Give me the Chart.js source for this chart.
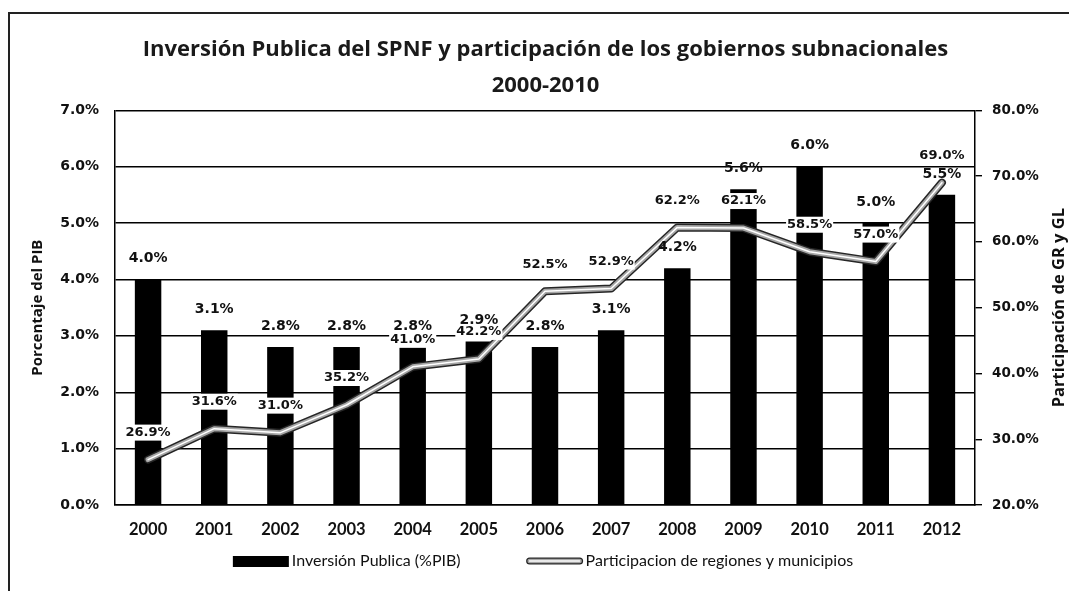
<!DOCTYPE html>
<html><head><meta charset="utf-8">
<script src="https://cdn.jsdelivr.net/npm/chart.js@4.4.1/dist/chart.umd.min.js"></script>
<style>
html,body{margin:0;padding:0;background:#fff;}
#wrap{position:relative;width:1069px;height:591px;overflow:hidden;}
#frame{position:absolute;left:8px;top:12px;width:1100px;height:620px;border-left:2px solid #222;border-top:2px solid #222;}
canvas{position:absolute;left:0;top:0;}
</style></head><body>
<div id="wrap"><div id="frame"></div><canvas id="c" width="1069" height="591"></canvas></div>
<script>
// ---- data ----
const years = ['2000','2001','2002','2003','2004','2005','2006','2007','2008','2009','2010','2011','2012'];
const inversionPIB = [4.0, 3.1, 2.8, 2.8, 2.8, 2.9, 2.8, 3.1, 4.2, 5.6, 6.0, 5.0, 5.5];
const participacion = [26.9, 31.6, 31.0, 35.2, 41.0, 42.2, 52.5, 52.9, 62.2, 62.1, 58.5, 57.0, 69.0];
const leftTicks = [0, 1, 2, 3, 4, 5, 6, 7];
const rightTicks = [20, 30, 40, 50, 60, 70, 80];
const titleLines = ['Inversión Publica del SPNF y participación de los gobiernos subnacionales', '2000-2010'];
const leftTitle = 'Porcentaje del PIB';
const rightTitle = 'Participación de GR y GL';
const seriesNames = ['Inversión Publica (%PIB)', 'Participacion de regiones y municipios'];

const pct = v => Number(v).toFixed(1) + '%';
const lineStrokes = [[8, '#262626'], [5, '#a6a6a6'], [1.5, '#ffffff']];

function strokeDoubleLine(ctx, pts) {
  ctx.save();
  ctx.lineJoin = 'round'; ctx.lineCap = 'round';
  lineStrokes.forEach(([w, c], i) => {
    if (i === 0) return;
    ctx.beginPath();
    pts.forEach((p, k) => k ? ctx.lineTo(p.x, p.y) : ctx.moveTo(p.x, p.y));
    ctx.lineWidth = w; ctx.strokeStyle = c; ctx.stroke();
  });
  ctx.restore();
}

const decoPlugin = {
  id: 'deco',
  afterDatasetDraw(chart, args) {
    if (args.index !== 1) return;
    const pts = args.meta.data.map(p => ({x: p.x, y: p.y}));
    strokeDoubleLine(chart.ctx, pts);
  },
  afterDatasetsDraw(chart) {
    const ctx = chart.ctx;
    ctx.save();
    ctx.textAlign = 'center'; ctx.textBaseline = 'middle';
    // bar labels
    ctx.font = 'bold 14px "DejaVu Sans"';
    ctx.fillStyle = '#111';
    chart.getDatasetMeta(0).data.forEach((b, i) => {
      ctx.fillText(pct(inversionPIB[i]), b.x, b.y - 21);
    });
    // line labels
    ctx.font = 'bold 13px "DejaVu Sans"';
    chart.getDatasetMeta(1).data.forEach((p, i) => {
      const t = pct(participacion[i]);
      const w = ctx.measureText(t).width;
      const y = p.y - 27;
      ctx.fillStyle = '#fff';
      ctx.fillRect(p.x - w / 2 - 1, y - 8, w + 2, 16);
      ctx.fillStyle = '#111';
      ctx.fillText(t, p.x, y);
    });
    ctx.restore();
  },
  afterDraw(chart) {
    const ctx = chart.ctx;
    const ca = chart.chartArea;
    ctx.save();
    // right axis title (bottom-to-top)
    ctx.translate(1059, (ca.top + ca.bottom) / 2);
    ctx.rotate(-Math.PI / 2);
    ctx.font = 'bold 16.5px "Open Sans"';
    ctx.fillStyle = '#111';
    ctx.textAlign = 'center'; ctx.textBaseline = 'middle';
    ctx.fillText(rightTitle, 0, 0);
    ctx.restore();
    // legend
    ctx.save();
    ctx.font = '16px Lato';
    ctx.textBaseline = 'middle'; ctx.textAlign = 'left';
    const sym = 56, gapT = 3, gapItems = 66;
    const w1 = ctx.measureText(seriesNames[0]).width;
    const w2 = ctx.measureText(seriesNames[1]).width;
    const total = sym + gapT + w1 + gapItems + sym + gapT + w2;
    let x = 543 - total / 2;
    const y = 561;
    ctx.fillStyle = '#000';
    ctx.fillRect(x, y - 5, sym, 11);
    x += sym + gapT;
    ctx.fillStyle = '#111';
    ctx.fillText(seriesNames[0], x, y);
    x += w1 + gapItems;
    ctx.lineCap = 'round';
    [[7, '#262626'], [4.5, '#a6a6a6'], [1.4, '#fff']].forEach(([lw, c]) => {
      ctx.beginPath(); ctx.moveTo(x + 3, y); ctx.lineTo(x + sym - 3, y);
      ctx.lineWidth = lw; ctx.strokeStyle = c; ctx.stroke();
    });
    x += sym + gapT;
    ctx.fillStyle = '#111';
    ctx.fillText(seriesNames[1], x, y);
    ctx.restore();
  }
};

new Chart(document.getElementById('c'), {
  data: {
    labels: years,
    datasets: [
      {
        type: 'bar', label: seriesNames[0], data: inversionPIB, yAxisID: 'y',
        backgroundColor: '#000', borderWidth: 0,
        barPercentage: 0.8, categoryPercentage: 0.5, order: 1
      },
      {
        type: 'line', label: seriesNames[1], data: participacion, yAxisID: 'y1',
        borderColor: lineStrokes[0][1], borderWidth: lineStrokes[0][0], pointRadius: 0, tension: 0,
        borderJoinStyle: 'round', borderCapStyle: 'round', fill: false, order: 0
      }
    ]
  },
  options: {
    responsive: false, animation: false,
    layout: { padding: { left: 22, right: 0, top: 14, bottom: 46 } },
    plugins: {
      legend: { display: false },
      tooltip: { enabled: false },
      title: {
        display: true, text: titleLines, color: '#1a1a1a',
        font: { family: 'Open Sans', weight: 'bold', size: 22, lineHeight: 1.62 },
        padding: { top: 18, bottom: 7 }
      }
    },
    scales: {
      x: {
        grid: { display: false, drawTicks: false },
        border: { display: true, color: '#000', width: 1.5 },
        ticks: { color: '#111', font: { family: 'Lato', weight: 'bold', size: 16.5 }, padding: 15 },
        afterFit(s) { s.height = 40; }
      },
      y: {
        position: 'left', min: 0, max: 7,
        afterBuildTicks(s) { s.ticks = leftTicks.map(v => ({ value: v })); },
        grid: { color: '#000', lineWidth: 1.4, drawTicks: false },
        border: { display: true, color: '#000', width: 1.5 },
        ticks: { color: '#111', font: { family: 'DejaVu Sans', weight: 'bold', size: 14 }, padding: 16, callback: v => pct(v) },
        title: { display: true, text: leftTitle, color: '#111', font: { family: 'Open Sans', weight: 'bold', size: 15 }, padding: { top: 7, bottom: 0 } },
        afterFit(s) { s.width = 93; }
      },
      y1: {
        position: 'right', min: 20, max: 80,
        afterBuildTicks(s) { s.ticks = rightTicks.map(v => ({ value: v })); },
        grid: { drawOnChartArea: false, drawTicks: true, tickLength: 7, color: '#000', lineWidth: 1.4 },
        border: { display: true, color: '#000', width: 1.5 },
        ticks: { color: '#111', font: { family: 'DejaVu Sans', weight: 'bold', size: 13.5 }, padding: 10, callback: v => pct(v) },
        afterFit(s) { s.width = 94; }
      }
    }
  },
  plugins: [decoPlugin]
});
</script>
</body></html>
